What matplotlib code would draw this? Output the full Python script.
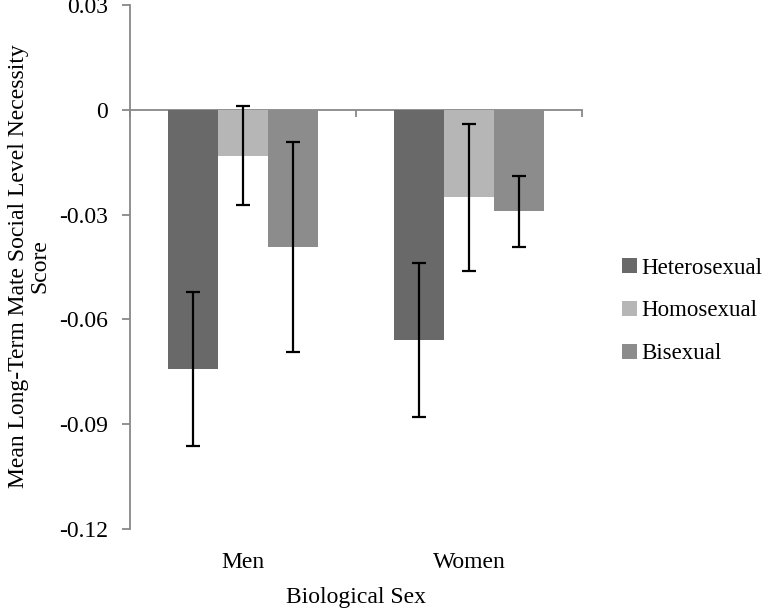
import matplotlib
matplotlib.use("Agg")
import matplotlib.pyplot as plt
from matplotlib.patches import Patch
import numpy as np

categories = ["Men", "Women"]
series = ["Heterosexual", "Homosexual", "Bisexual"]
hetero = [-0.0742, -0.0659]
homo = [-0.0131, -0.0251]
bi = [-0.0392, -0.0291]
hetero_err = [0.0221, 0.0220]
homo_err = [0.0141, 0.0211]
bi_err = [0.0300, 0.0101]
yticks = [0.03, 0, -0.03, -0.06, -0.09, -0.12]
ytick_labels = ["0.03", "0", "-0.03", "-0.06", "-0.09", "-0.12"]

colors = ["#696969", "#b6b6b6", "#8c8c8c"]
axis_color = "#888888"
FS = 17

plt.rcParams['font.family'] = ['Liberation Serif', 'DejaVu Serif']

fig = plt.figure(figsize=(7.66, 6.10), dpi=100)
ax = fig.add_axes([130/766, 1-529/610, (582-130)/766, (529-5)/610])

x = np.arange(len(categories))
w = 0.222
vals = [hetero, homo, bi]
errs = [hetero_err, homo_err, bi_err]
for i, (v, e) in enumerate(zip(vals, errs)):
    ax.bar(x + (i-1)*w, v, width=w, color=colors[i], edgecolor='none', zorder=2)
    ax.errorbar(x + (i-1)*w, v, yerr=e, fmt='none', ecolor='black',
                elinewidth=1.6, capsize=4.7, capthick=1.6, zorder=3)

ax.set_xlim(-0.5, 1.5)
ax.set_ylim(-0.12, 0.03)
ax.set_yticks(yticks)
ax.set_yticklabels(ytick_labels, fontsize=FS)
ax.spines['top'].set_visible(False)
ax.spines['right'].set_visible(False)
ax.spines['bottom'].set_position(('data', 0))
ax.spines['bottom'].set_zorder(1)
for s in ['left', 'bottom']:
    ax.spines[s].set_color(axis_color)
    ax.spines[s].set_linewidth(1.3)
ax.set_xticks([-0.5, 0.5, 1.5])
ax.set_xticklabels([])
ax.tick_params(axis='x', direction='out', length=5, color=axis_color, width=1.3)
ax.tick_params(axis='y', direction='out', length=6, color=axis_color, width=1.3, pad=10)

for xi, c in zip(x, categories):
    ax.text(xi, -0.1296, c, ha='center', va='center', fontsize=FS,
            transform=ax.transData, clip_on=False)
fig.text(356/766, 1-597/610, "Biological Sex", ha='center', va='center', fontsize=FS)
fig.text(29/766, 1-266/610, "Mean Long-Term Mate Social Level Necessity\nScore",
         ha='center', va='center', rotation=90, fontsize=FS, multialignment='center',
         linespacing=1.0)

handles = [Patch(facecolor=c, edgecolor='none') for c in colors]
leg = fig.legend(handles, series, loc='center left', bbox_to_anchor=(622/766, 1-311/610),
                 frameon=False, fontsize=16.5, handlelength=0.65, handleheight=0.65,
                 handletextpad=0.2, labelspacing=0.95, borderpad=0, borderaxespad=0)

fig.savefig("out.png", dpi=100)
